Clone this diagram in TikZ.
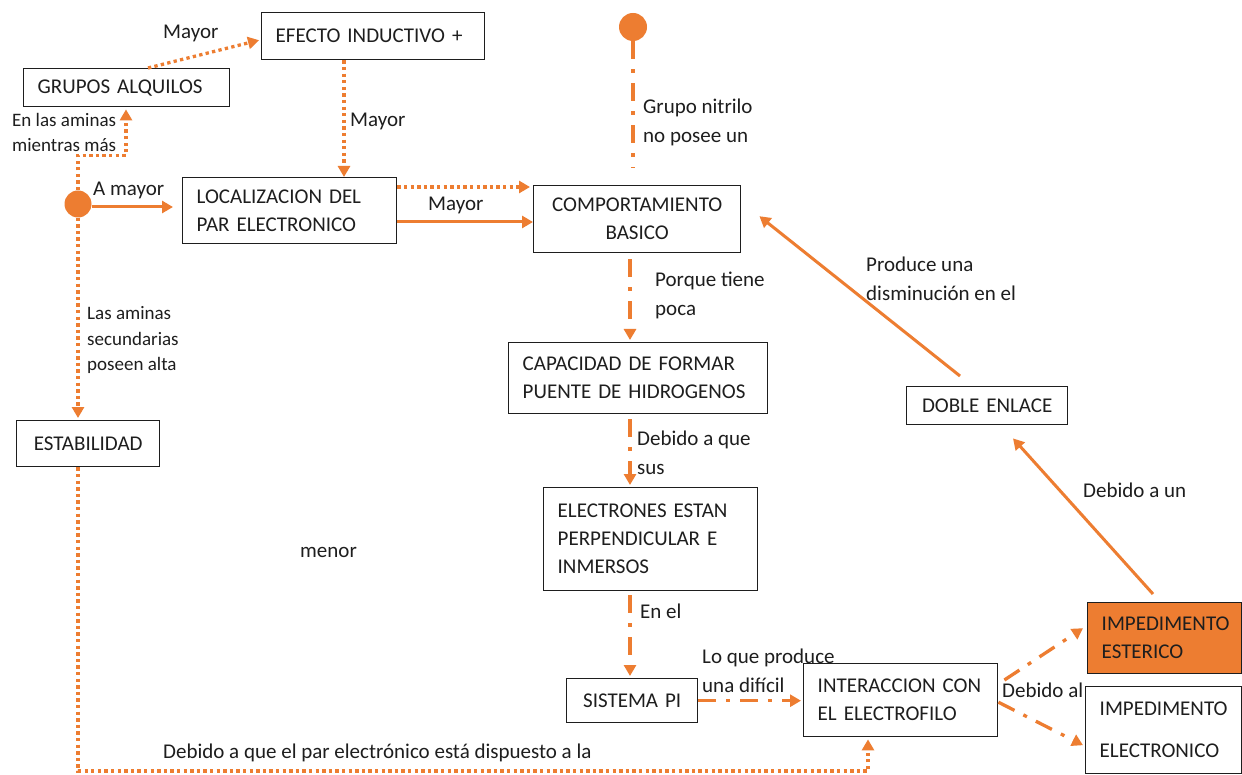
\documentclass[tikz,border=0pt]{standalone}
\usepackage{fontspec}
\setmainfont{Carlito}
\usetikzlibrary{arrows.meta,calc}
\definecolor{accent}{RGB}{237,125,49}
\definecolor{ink}{RGB}{30,30,30}
\newcommand\cmboxfont{\fontsize{21}{28}\selectfont}
\newcommand\cmlblfont{\fontsize{21}{29}\selectfont}
\newcommand\cmsmallfont{\fontsize{19}{25.5}\selectfont}
\begin{document}
\begin{tikzpicture}[x=1pt,y=-1pt,
  box/.style={draw=ink, line width=1.4pt, fill=white, anchor=north west,
    inner xsep=14pt, inner ysep=0pt, align=left, font=\cmboxfont, text=ink},
  cbox/.style={box, align=center},
  lbl/.style={anchor=west, inner sep=0pt, align=left, font=\cmlblfont, text=ink},
  slbl/.style={lbl, font=\cmsmallfont},
  dotline/.style={draw=accent, line width=3.3pt, dash pattern=on 3.3pt off 3.3pt},
  dashdot/.style={draw=accent, line width=3.3pt, dash pattern=on 18pt off 10pt on 4pt off 10pt},
  solidline/.style={draw=accent, line width=3pt},
  tip/.style={-{Triangle[length=11pt,width=12pt]}},
  dotnode/.style={circle, fill=accent, inner sep=0pt, minimum size=27pt}
]
\useasboundingbox[fill=white] (0,0) rectangle (1242,775);

% concept boxes
\node[box, text width=195pt, minimum height=47pt] (efe) at (261,12) {EFECTO INDUCTIVO +};
\node[box, text width=178pt, minimum height=38pt] (grp) at (23,68) {GRUPOS ALQUILOS};
\node[box, text width=186pt, minimum height=66pt] (loc) at (182,177) {LOCALIZACION DEL\\PAR ELECTRONICO};
\node[cbox, text width=179pt, minimum height=67pt] (comp) at (533,185) {COMPORTAMIENTO\\BASICO};
\node[box, text width=231pt, minimum height=71pt] (cap) at (508,342) {CAPACIDAD DE FORMAR\\PUENTE DE HIDROGENOS};
\node[box, text width=186pt, minimum height=103pt] (ele) at (543,487) {ELECTRONES ESTAN\\PERPENDICULAR E\\INMERSOS};
\node[cbox, text width=103pt, minimum height=44pt] (spi) at (566,678) {SISTEMA PI};
\node[box, text width=166pt, minimum height=73pt] (int) at (803,663) {INTERACCION CON\\EL ELECTROFILO};
\node[box, fill=accent, text width=126pt, minimum height=71pt] (est) at (1087,602) {IMPEDIMENTO\\ESTERICO};
\node[box, text width=128pt, minimum height=87pt, font=\fontsize{21}{42}\selectfont] (elc) at (1085,686) {IMPEDIMENTO\\ELECTRONICO};
\node[cbox, text width=133pt, minimum height=38pt] (dob) at (906,386) {DOBLE ENLACE};
\node[cbox, text width=115pt, minimum height=46pt] (stab) at (16,420) {ESTABILIDAD};

% start points
\node[dotnode] (lc) at (78,204) {};
\node[dotnode, minimum size=28pt] (tc) at (633,27) {};

% helper points on the boxes
\coordinate (grpTop) at ($(grp.north west)+(125,0)$);
\coordinate (efeIn) at ($(efe.west)+(-2,4)$);
\coordinate (efeBot) at ($(efe.south west)+(83,0)$);
\coordinate (locTop) at ($(loc.north west)+(162,0)$);
\coordinate (grpBot) at ($(grp.south west)+(103,2)$);
\coordinate (lcOut) at ($(lc.east)+(0,3)$);
\coordinate (locA) at ($(loc.north east)+(0,10)$);
\coordinate (locB) at ($(loc.north east)+(0,45)$);
\coordinate (bend) at (78,771);
\coordinate (intBot) at ($(int.south west)+(65,2)$);
\coordinate (compBot) at ($(comp.south west)+(97,6)$);
\coordinate (capBot) at ($(cap.south west)+(122,5)$);
\coordinate (eleBot) at ($(ele.south west)+(87,4)$);
\coordinate (intNE) at ($(int.north east)+(6,17)$);
\coordinate (estIn) at ($(est.west)+(-4,-10)$);
\coordinate (intE) at ($(int.east)+(0,2)$);
\coordinate (elcIn) at ($(elc.west)+(-2,15)$);
\coordinate (estTop) at ($(est.north west)+(66,-8)$);
\coordinate (dobIn) at ($(dob.south west)+(107,13)$);
\coordinate (dobTop) at ($(dob.north west)+(54,-10)$);
\coordinate (compIn) at ($(comp.east)+(18,-3)$);

% dotted connectors
\draw[dotline,tip] (grpTop) -- (efeIn);
\draw[dotline,tip] (efeBot) -- (locTop);
\draw[dotline,tip] (lc.north) -- ++(0,-35) -| (grpBot);
\draw[dotline,tip,shorten >=3pt] (locA) -- (locA -| comp.west);
\draw[dotline,tip,shorten >=2pt] (lc.south) -- (lc.south |- stab.north);
\draw[dotline,tip] (lc.south |- stab.south) -- (bend) -| (intBot);

% solid connectors
\draw[solidline,tip,shorten >=9pt] (lcOut) -- (lcOut -| loc.west);
\draw[solidline,tip] (locB) -- (locB -| comp.west);
\draw[solidline,tip] (estTop) -- (dobIn);
\draw[solidline,tip] (dobTop) -- (compIn);

% dash-dot connectors
\draw[dashdot,shorten >=17pt] (tc.south) -- (tc.south |- comp.north);
\draw[dashdot,tip,shorten >=2pt] (compBot) -- (compBot |- cap.north);
\draw[dashdot,tip,shorten >=2pt] (capBot) -- (capBot |- ele.north);
\draw[dashdot,tip,shorten >=2pt] (eleBot) -- (eleBot |- spi.north);
\draw[dashdot,tip,shorten >=2pt] (spi.east) -- (spi.east -| int.west);
\draw[dashdot,tip] (intNE) -- (estIn);
\draw[dashdot,tip] (intE) -- (elcIn);

% connector labels
\node[lbl] (l1) at (163,33) {Mayor};
\node[lbl] (l2) at (350,121) {Mayor};
\node[slbl] (l3) at (12,132.5) {En las aminas\\mientras más};
\node[lbl] (l4) at (93,190) {A mayor};
\node[lbl] (l5) at (428,205) {Mayor};
\node[lbl] (l6) at (643,122.5) {Grupo nitrilo\\no posee un};
\node[lbl] (l7) at (655,295.5) {Porque tiene\\poca};
\node[slbl] (l8) at (87,340) {Las aminas\\secundarias\\poseen alta};
\node[lbl] (l9) at (637,452.5) {Debido a que\\sus};
\node[lbl] (l10) at (640,611) {En el};
\node[lbl] (l11) at (702,671) {Lo que produce\\una difícil};
\node[lbl] (l12) at (1002,690) {Debido al};
\node[lbl] (l13) at (1083,490) {Debido a un};
\node[lbl] (l14) at (866,279) {Produce una\\disminución en el};
\node[lbl] (l15) at (300,552) {menor};
\node[lbl] (l16) at (163,753) {Debido a que el par electrónico está dispuesto a la};
\end{tikzpicture}
\end{document}
